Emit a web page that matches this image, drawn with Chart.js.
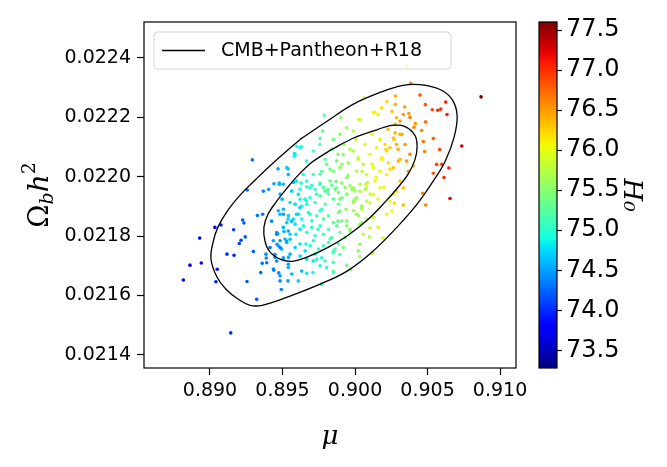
<!DOCTYPE html>
<html>
<head>
<meta charset="utf-8">
<script src="https://cdn.jsdelivr.net/npm/chart.js@4.4.1/dist/chart.umd.min.js"></script>
<style>
  html, body { margin: 0; padding: 0; background: #fff; }
</style>
</head>
<body>
<canvas id="myChart" width="667" height="467"></canvas>
<script>
// sample points: mu, Omega_b h^2, H0 (colour)
var mu = [
  0.88816, 0.88862, 0.8894, 0.88929, 0.89034, 0.89076, 0.8905, 0.89041, 0.89117, 0.89166,
  0.89163, 0.89214, 0.89202, 0.89243, 0.89225, 0.89234, 0.89143, 0.89322, 0.89255, 0.89299,
  0.8935, 0.89327, 0.89363, 0.89257, 0.89292, 0.89368, 0.89405, 0.89386, 0.89388, 0.8936,
  0.8944, 0.89474, 0.89492, 0.89469, 0.89538, 0.89441, 0.89478, 0.89467, 0.89462, 0.89483,
  0.8951, 0.89538, 0.8954, 0.89609, 0.89581, 0.89581, 0.8963, 0.8977, 0.8971, 0.89667,
  0.89788, 0.89777, 0.89903, 0.89759, 0.8985, 0.89943, 0.8997, 0.90035, 0.90122, 0.90099,
  0.90159, 0.90193, 0.90062, 0.90025, 0.90136, 0.90159, 0.90219, 0.90279, 0.90355, 0.90384,
  0.90343, 0.90371, 0.90448, 0.90485, 0.90533, 0.9057, 0.90591, 0.90625, 0.90634, 0.90869,
  0.90736, 0.90584, 0.9054, 0.90471, 0.9048, 0.9046, 0.90487, 0.90416, 0.90563, 0.90599,
  0.90647, 0.9054, 0.90614, 0.90655, 0.90467, 0.90487, 0.90402, 0.90333, 0.90271,
  // centre of the cloud
  0.89478, 0.89506, 0.89575, 0.89628, 0.89667, 0.89702, 0.89725, 0.89759, 0.89782, 0.8981,
  0.8984, 0.89863, 0.89886, 0.89909, 0.89932, 0.89966, 0.90001, 0.90035, 0.9007, 0.90086,
  0.89483, 0.89552, 0.89587, 0.89621, 0.89633, 0.89667, 0.8969, 0.89725, 0.89759, 0.89771,
  0.89794, 0.89817, 0.89851, 0.89886, 0.89909, 0.89943, 0.89989, 0.90012, 0.90047, 0.90081,
  0.89471, 0.89506, 0.89541, 0.89575, 0.8961, 0.89633, 0.89644, 0.89679, 0.89702, 0.89736,
  0.89759, 0.89782, 0.89817, 0.89851, 0.89886, 0.89909, 0.89943, 0.89989, 0.90024, 0.90047,
  0.90081, 0.8946, 0.89506, 0.89529, 0.89552, 0.89587, 0.89621, 0.89667, 0.89702, 0.89725,
  0.89759, 0.89782, 0.89817, 0.8984, 0.89874, 0.89897, 0.89932, 0.89966, 0.89437, 0.89471,
  0.89494, 0.89529, 0.89552, 0.89587, 0.89621, 0.89656, 0.8969, 0.89713, 0.89748, 0.89782,
  0.89817, 0.89851, 0.89886, 0.8992, 0.89449, 0.89506, 0.89541, 0.89621, 0.89667, 0.89736,
  0.89759, 0.89851, 0.89437, 0.89483, 0.89564, 0.89851,
  // upper right of the inner contour
  0.89919, 0.89954, 0.89988, 0.90023, 0.89896, 0.89851, 0.89873, 0.89804, 0.8977, 0.89827,
  0.89942, 0.90011, 0.90057, 0.9008, 0.90126, 0.90103, 0.90149, 0.90184, 0.90218, 0.90207,
  0.90241, 0.90264, 0.90287, 0.90276, 0.9031, 0.9023, 0.90264, 0.90299, 0.90172, 0.90218,
  0.90138, 0.9008, 0.90034, 0.89988, 0.90172, 0.90126, 0.90103, 0.90046, 0.89988, 0.89942,
  0.90011, 0.89942, 0.89896, 0.89873, 0.89793, 0.89758, 0.89735, 0.89689, 0.89666, 0.89712,
  0.89643, 0.89597, 0.89563, 0.89609, 0.89666,
  // between the contours
  0.90034, 0.90126, 0.90184, 0.90278, 0.90287, 0.9031, 0.90333, 0.89942, 0.89896, 0.89851,
  0.89988, 0.89758, 0.89712, 0.8962, 0.89586, 0.89666, 0.89529,
  0.90356, 0.90379, 0.90368, 0.90333, 0.90287, 0.9031, 0.90264, 0.90241, 0.90253, 0.90218,
  0.90126, 0.90103, 0.90057, 0.90034, 0.90023,
  0.8946, 0.89483, 0.89529, 0.89506, 0.89448, 0.8954, 0.89563, 0.89597, 0.89506, 0.8962,
  0.89425, 0.89414, 0.89391, 0.8946, 0.8954, 0.89632, 0.89712, 0.8977, 0.8985, 0.89896,
  0.89804, 0.89483, 0.89598, 0.8954, 0.89575,
  // dense green / yellow core
  0.89828, 0.89869, 0.8991, 0.89952, 0.89979, 0.90021, 0.90048, 0.90076, 0.90117, 0.90145,
  0.90186, 0.90214, 0.90241, 0.90269, 0.90297, 0.90324, 0.90345, 0.9031, 0.90276, 0.90228,
  0.90172, 0.90117, 0.90069, 0.90007, 0.89966, 0.89924, 0.89883, 0.89841, 0.89793, 0.89759,
  0.89814, 0.89897, 0.89938, 0.9, 0.90048, 0.90103, 0.90159, 0.902, 0.90034, 0.89966,
  0.89883, 0.89828, 0.89745, 0.8969, 0.89655, 0.89621, 0.89586, 0.89538, 0.89593, 0.89662,
  0.89724, 0.89793, 0.89862, 0.89497, 0.89483, 0.89517, 0.89552, 0.90379, 0.90407, 0.90255
];
var omegaBh2 = [
  0.021652, 0.021702, 0.021709, 0.021793, 0.021829, 0.021837, 0.021688, 0.021646, 0.021739, 0.021735,
  0.021821, 0.021786, 0.021775, 0.021797, 0.021854, 0.021844, 0.021474, 0.021587, 0.021647, 0.021748,
  0.021677, 0.021869, 0.021873, 0.021955, 0.022056, 0.021951, 0.021957, 0.021739, 0.021726, 0.021708,
  0.021685, 0.021676, 0.02162, 0.022026, 0.022026, 0.021976, 0.021974, 0.021808, 0.021772, 0.021784,
  0.021815, 0.021649, 0.021694, 0.021649, 0.022078, 0.022067, 0.0221, 0.021638, 0.021677, 0.021675,
  0.022206, 0.022153, 0.022198, 0.022129, 0.021681, 0.021702, 0.021687, 0.021731, 0.021741, 0.021797,
  0.021829, 0.021793, 0.022265, 0.022192, 0.022216, 0.022209, 0.022252, 0.022271, 0.022372, 0.022314,
  0.022234, 0.022212, 0.022274, 0.022242, 0.022225, 0.022223, 0.022227, 0.022251, 0.022209, 0.022268,
  0.022103, 0.022091, 0.022128, 0.022118, 0.022084, 0.022155, 0.022184, 0.022178, 0.022041, 0.022041,
  0.022029, 0.022011, 0.021997, 0.021926, 0.021944, 0.021904, 0.022036, 0.021904, 0.02191,
  0.021978, 0.021974, 0.021982, 0.021978, 0.021966, 0.021971, 0.021957, 0.021978, 0.021963, 0.021952,
  0.021971, 0.021957, 0.021946, 0.021978, 0.021963, 0.021969, 0.021952, 0.021974, 0.021957, 0.02198,
  0.021941, 0.021913, 0.021907, 0.021924, 0.021901, 0.021907, 0.021929, 0.021913, 0.021935, 0.02189,
  0.021907, 0.021941, 0.021924, 0.021907, 0.021929, 0.021941, 0.021913, 0.021929, 0.021901, 0.021918,
  0.021885, 0.02189, 0.021868, 0.021857, 0.021873, 0.021857, 0.021834, 0.021879, 0.021851, 0.021868,
  0.021885, 0.021857, 0.021868, 0.021845, 0.021879, 0.021851, 0.021834, 0.021885, 0.021868, 0.021845,
  0.021857, 0.021812, 0.021829, 0.021845, 0.021806, 0.02184, 0.021823, 0.021812, 0.021829, 0.021801,
  0.021834, 0.021806, 0.021823, 0.021795, 0.021834, 0.021812, 0.021795, 0.021823, 0.021784, 0.021767,
  0.021756, 0.021778, 0.021789, 0.021761, 0.021773, 0.02175, 0.021767, 0.021784, 0.021756, 0.021767,
  0.021778, 0.02175, 0.021773, 0.021761, 0.021728, 0.021722, 0.021728, 0.021733, 0.021722, 0.021722,
  0.0217, 0.021711, 0.021689, 0.021666, 0.021672, 0.021677,
  0.022074, 0.022046, 0.022086, 0.022063, 0.02203, 0.022018, 0.022052, 0.022041, 0.022018, 0.021985,
  0.021996, 0.022018, 0.022041, 0.022007, 0.02203, 0.022074, 0.022097, 0.022063, 0.022086, 0.022108,
  0.022097, 0.02213, 0.022108, 0.022147, 0.022142, 0.022046, 0.02203, 0.022052, 0.022018, 0.022007,
  0.021985, 0.021962, 0.021951, 0.021962, 0.021962, 0.02194, 0.021912, 0.021895, 0.021918, 0.02194,
  0.021873, 0.02185, 0.021884, 0.021962, 0.021951, 0.021974, 0.02194, 0.021962, 0.021985, 0.022007,
  0.022007, 0.021985, 0.021951, 0.02194, 0.021918,
  0.022192, 0.022215, 0.022231, 0.022243, 0.022198, 0.022187, 0.022209, 0.022164, 0.022142, 0.022125,
  0.022153, 0.022108, 0.022086, 0.022097, 0.022075, 0.022052, 0.02203,
  0.022052, 0.022075, 0.022018, 0.021962, 0.021951, 0.021985, 0.02194, 0.021918, 0.021884, 0.021873,
  0.021862, 0.021828, 0.021806, 0.021772, 0.02175,
  0.021806, 0.021761, 0.021783, 0.021727, 0.021738, 0.021817, 0.02185, 0.021873, 0.021873, 0.021895,
  0.02185, 0.021761, 0.02171, 0.021716, 0.021705, 0.021682, 0.021716, 0.021727, 0.021744, 0.021738,
  0.021694, 0.021649, 0.022102, 0.022007, 0.02198,
  0.022025, 0.021984, 0.022041, 0.022004, 0.021957, 0.022058, 0.022018, 0.021974, 0.022041, 0.021998,
  0.022058, 0.022092, 0.022025, 0.022125, 0.022092, 0.022142, 0.022108, 0.022058, 0.022176, 0.022159,
  0.022125, 0.022142, 0.022108, 0.022125, 0.022092, 0.022108, 0.022075, 0.022092, 0.022058, 0.022008,
  0.021957, 0.021924, 0.02189, 0.021924, 0.02189, 0.021941, 0.021924, 0.021964, 0.02184, 0.021816,
  0.02185, 0.02179, 0.021823, 0.021873, 0.021924, 0.021957, 0.021907, 0.021857, 0.021806, 0.021773,
  0.021739, 0.021716, 0.021756, 0.021924, 0.021873, 0.02179, 0.021739, 0.022199, 0.022166, 0.022219
];
var h0 = [
  73.6, 73.7, 73.8, 73.8, 73.9, 74.0, 73.9, 73.9, 74.0, 74.0,
  74.1, 74.1, 74.1, 74.2, 74.2, 74.2, 74.0, 74.2, 74.2, 74.2,
  74.3, 74.3, 74.3, 74.3, 74.3, 74.4, 74.5, 74.4, 74.4, 74.3,
  74.4, 74.4, 74.4, 74.5, 74.6, 74.5, 74.5, 74.5, 74.5, 74.5,
  74.6, 74.5, 74.6, 74.7, 74.9, 74.9, 74.9, 75.0, 74.9, 74.8,
  75.3, 75.3, 75.5, 75.2, 75.3, 75.4, 75.5, 75.6, 75.8, 75.7,
  75.9, 75.9, 75.9, 75.9, 76.1, 76.1, 76.2, 76.4, 76.3, 76.6,
  76.5, 76.5, 76.8, 76.8, 76.9, 77.0, 77.0, 77.1, 77.1, 77.6,
  77.3, 76.9, 76.8, 76.7, 76.6, 76.6, 76.7, 76.5, 76.9, 77.0,
  77.1, 76.8, 77.0, 77.2, 76.6, 76.6, 76.4, 76.3, 76.2,
  74.6, 74.6, 74.8, 74.9, 75.0, 75.0, 75.1, 75.2, 75.2, 75.2,
  75.3, 75.3, 75.4, 75.5, 75.5, 75.6, 75.6, 75.7, 75.7, 75.8,
  74.6, 74.8, 74.8, 74.9, 74.9, 75.0, 75.0, 75.1, 75.2, 75.1,
  75.2, 75.3, 75.3, 75.4, 75.4, 75.5, 75.6, 75.6, 75.7, 75.7,
  74.6, 74.6, 74.7, 74.8, 74.8, 74.9, 74.9, 75.0, 75.0, 75.1,
  75.1, 75.2, 75.2, 75.3, 75.4, 75.4, 75.5, 75.6, 75.6, 75.7,
  75.7, 74.5, 74.6, 74.7, 74.7, 74.8, 74.8, 74.9, 75.0, 75.0,
  75.1, 75.1, 75.2, 75.2, 75.3, 75.4, 75.4, 75.5, 74.5, 74.5,
  74.6, 74.6, 74.7, 74.7, 74.8, 74.8, 74.9, 75.0, 75.0, 75.1,
  75.2, 75.2, 75.3, 75.4, 74.5, 74.6, 74.6, 74.7, 74.8, 74.9,
  74.9, 75.1, 74.4, 74.5, 74.6, 75.1,
  75.5, 75.6, 75.7, 75.8, 75.5, 75.4, 75.4, 75.3, 75.2, 75.3,
  75.5, 75.7, 75.8, 75.9, 76.0, 76.0, 76.1, 76.1, 76.2, 76.2,
  76.3, 76.3, 76.4, 76.4, 76.4, 76.2, 76.3, 76.4, 76.0, 76.1,
  76.0, 75.9, 75.7, 75.6, 76.0, 75.9, 75.8, 75.7, 75.6, 75.5,
  75.6, 75.5, 75.4, 75.4, 75.2, 75.1, 75.1, 75.0, 74.9, 75.1,
  74.9, 74.8, 74.7, 74.8, 74.9,
  75.9, 76.1, 76.2, 76.4, 76.4, 76.5, 76.5, 75.6, 75.5, 75.4,
  75.7, 75.2, 75.1, 74.9, 74.8, 74.9, 74.7,
  76.5, 76.6, 76.5, 76.3, 76.2, 76.3, 76.1, 76.0, 76.0, 75.9,
  75.8, 75.8, 75.7, 75.6, 75.5,
  74.4, 74.4, 74.5, 74.5, 74.4, 74.5, 74.6, 74.7, 74.5, 74.7,
  74.4, 74.3, 74.3, 74.4, 74.5, 74.6, 74.8, 74.9, 75.1, 75.2,
  75.0, 74.4, 74.9, 74.6, 74.7,
  75.4, 75.4, 75.6, 75.6, 75.6, 75.8, 75.8, 75.8, 76.0, 76.0,
  76.1, 76.2, 76.2, 76.3, 76.4, 76.4, 76.5, 76.3, 76.4, 76.3,
  76.1, 76.0, 75.9, 75.8, 75.7, 75.6, 75.5, 75.4, 75.3, 75.2,
  75.3, 75.4, 75.5, 75.6, 75.7, 75.9, 76.0, 76.1, 75.6, 75.5,
  75.3, 75.2, 75.1, 75.0, 74.9, 74.9, 74.8, 74.7, 74.8, 74.9,
  75.0, 75.1, 75.2, 74.6, 74.6, 74.6, 74.6, 76.6, 76.6, 76.3
];

// confidence contours (closed paths)
var outerMu = [0.89621, 0.89807, 0.89986, 0.90172, 0.90331, 0.90448, 0.90586, 0.90669, 0.90704, 0.90683,
  0.90621, 0.90538, 0.90428, 0.9029, 0.90124, 0.89945, 0.89759, 0.89552, 0.89359, 0.89276,
  0.89193, 0.8911, 0.89048, 0.89007, 0.89021, 0.89055, 0.89124, 0.89214, 0.89317, 0.89441,
  0.89621];
var outerOmega = [0.022125, 0.022186, 0.022243, 0.022283, 0.022307, 0.022309, 0.022293, 0.02226, 0.022206, 0.022132,
  0.022051, 0.021984, 0.021907, 0.02183, 0.021749, 0.021682, 0.021638, 0.021598, 0.021567, 0.021567,
  0.021588, 0.021621, 0.021662, 0.021722, 0.021779, 0.02183, 0.021887, 0.021941, 0.021991, 0.022048,
  0.022125];
var innerMu = [0.89828, 0.89986, 0.90159, 0.90255, 0.90345, 0.90414, 0.90428, 0.90414, 0.90366, 0.90297,
  0.90207, 0.90083, 0.89945, 0.89807, 0.89669, 0.89566, 0.89483, 0.89414, 0.89379, 0.89372,
  0.894, 0.89455, 0.89524, 0.89607, 0.89703, 0.89828];
var innerOmega = [0.022088, 0.022129, 0.022159, 0.022172, 0.022168, 0.022138, 0.022100, 0.022058, 0.022008, 0.021964,
  0.021914, 0.021853, 0.0218, 0.02176, 0.021729, 0.021715, 0.021722, 0.021746, 0.021783, 0.02183,
  0.021873, 0.021914, 0.021957, 0.022004, 0.022048, 0.022088];

var xTicks = [0.890, 0.895, 0.900, 0.905, 0.910];
var yTicks = [0.0214, 0.0216, 0.0218, 0.0220, 0.0222, 0.0224];
var cbTicks = [73.5, 74.0, 74.5, 75.0, 75.5, 76.0, 76.5, 77.0, 77.5];
var legendLabel = 'CMB+Pantheon+R18';

var H0_MIN = 73.28, H0_MAX = 77.6;

// matplotlib "jet"
function jet(t) {
  function seg(pts) {
    for (var i = 1; i < pts.length; i++) {
      if (t <= pts[i][0]) {
        var a = pts[i - 1], b = pts[i];
        return a[1] + (b[1] - a[1]) * (t - a[0]) / (b[0] - a[0]);
      }
    }
    return pts[pts.length - 1][1];
  }
  t = Math.max(0, Math.min(1, t));
  var r = seg([[0, 0], [0.35, 0], [0.66, 1], [0.89, 1], [1, 0.5]]);
  var g = seg([[0, 0], [0.125, 0], [0.375, 1], [0.64, 1], [0.91, 0], [1, 0]]);
  var b = seg([[0, 0.5], [0.11, 1], [0.34, 1], [0.65, 0], [1, 0]]);
  return 'rgb(' + Math.round(r * 255) + ',' + Math.round(g * 255) + ',' + Math.round(b * 255) + ')';
}
function h0Color(v) { return jet((v - H0_MIN) / (H0_MAX - H0_MIN)); }

var points = mu.map(function (m, i) { return {x: m, y: omegaBh2[i]}; });
var pointColors = h0.map(h0Color);
var outerPts = outerMu.map(function (m, i) { return {x: m, y: outerOmega[i]}; });
var innerPts = innerMu.map(function (m, i) { return {x: m, y: innerOmega[i]}; });

Chart.defaults.color = '#000';
Chart.defaults.font.family = 'DejaVu Sans';

var framePlugin = {
  id: 'frame',
  afterDatasetsDraw: function (chart) {
    var ctx = chart.ctx, a = chart.chartArea;
    ctx.save();
    ctx.strokeStyle = '#000';
    ctx.lineWidth = 1.2;
    ctx.strokeRect(a.left, a.top, a.right - a.left, a.bottom - a.top);
    ctx.restore();
  }
};

var colorbarPlugin = {
  id: 'colorbar',
  afterDraw: function (chart) {
    var ctx = chart.ctx, cb = chart.scales.cb;
    var x1 = cb.left, x0 = x1 - 18, top = cb.top, bottom = cb.bottom;
    var grad = ctx.createLinearGradient(0, bottom, 0, top);
    for (var i = 0; i <= 40; i++) grad.addColorStop(i / 40, jet(i / 40));
    ctx.save();
    ctx.fillStyle = grad;
    ctx.fillRect(x0, top, x1 - x0, bottom - top);
    ctx.strokeStyle = '#000';
    ctx.lineWidth = 1.2;
    ctx.strokeRect(x0, top, x1 - x0, bottom - top);
    ctx.restore();
  }
};

var legendPlugin = {
  id: 'boxLegend',
  afterDraw: function (chart) {
    var ctx = chart.ctx, a = chart.chartArea;
    var x = a.left + 10, y = a.top + 10, w = 297, h = 37, r = 4;
    ctx.save();
    ctx.beginPath();
    ctx.moveTo(x + r, y);
    ctx.arcTo(x + w, y, x + w, y + h, r);
    ctx.arcTo(x + w, y + h, x, y + h, r);
    ctx.arcTo(x, y + h, x, y, r);
    ctx.arcTo(x, y, x + w, y, r);
    ctx.closePath();
    ctx.fillStyle = 'rgba(255,255,255,0.8)';
    ctx.fill();
    ctx.strokeStyle = 'rgba(204,204,204,0.8)';
    ctx.lineWidth = 1;
    ctx.stroke();
    ctx.beginPath();
    ctx.moveTo(x + 8, y + h / 2);
    ctx.lineTo(x + 51, y + h / 2);
    ctx.strokeStyle = '#000';
    ctx.lineWidth = 1.3;
    ctx.stroke();
    ctx.fillStyle = '#000';
    ctx.font = '19px "DejaVu Sans"';
    ctx.textBaseline = 'middle';
    ctx.fillText(legendLabel, x + 67, y + h / 2 + 1);
    ctx.restore();
  }
};

// y label with sub/superscript: Omega_b h^2
var yTitlePlugin = {
  id: 'yTitle',
  afterDraw: function (chart) {
    var ctx = chart.ctx, a = chart.chartArea;
    var parts = [
      {t: '\u03A9', f: '28px "DejaVu Serif"', dy: 0},
      {t: 'b', f: 'italic 19px "DejaVu Serif"', dy: 5},
      {t: 'h', f: 'italic 28px "DejaVu Serif"', dy: 0},
      {t: '2', f: '19px "DejaVu Serif"', dy: -13}
    ];
    ctx.save();
    var total = 0;
    parts.forEach(function (p) { ctx.font = p.f; p.w = ctx.measureText(p.t).width; total += p.w; });
    ctx.translate(38, (a.top + a.bottom) / 2);
    ctx.rotate(-Math.PI / 2);
    ctx.fillStyle = '#000';
    ctx.textBaseline = 'alphabetic';
    var cx = -total / 2;
    parts.forEach(function (p) { ctx.font = p.f; ctx.fillText(p.t, cx, 10 + p.dy); cx += p.w; });
    ctx.restore();
  }
};

var tickGrid = {display: true, drawOnChartArea: false, drawTicks: true, tickLength: 7, tickColor: '#000', tickWidth: 1.2};

new Chart(document.getElementById('myChart').getContext('2d'), {
  type: 'scatter',
  data: {
    datasets: [{
      label: legendLabel,
      data: outerPts,
      showLine: true,
      borderColor: '#000',
      borderWidth: 1.3,
      pointRadius: 0,
      tension: 0.4,
      xAxisID: 'x', yAxisID: 'y'
    }, {
      label: legendLabel + ' inner',
      data: innerPts,
      showLine: true,
      borderColor: '#000',
      borderWidth: 1.3,
      pointRadius: 0,
      tension: 0.35,
      xAxisID: 'x', yAxisID: 'y'
    }, {
      label: 'samples',
      data: points,
      pointRadius: 1.8,
      pointBorderWidth: 0,
      pointBackgroundColor: pointColors,
      pointBorderColor: pointColors,
      xAxisID: 'x', yAxisID: 'y'
    }]
  },
  options: {
    responsive: false,
    animation: false,
    devicePixelRatio: 1,
    events: [],
    layout: {padding: {top: 22, left: 0, right: 0, bottom: 0}},
    plugins: {legend: {display: false}, tooltip: {enabled: false}},
    scales: {
      x: {
        type: 'linear', position: 'bottom',
        min: 0.88545, max: 0.9111,
        afterBuildTicks: function (s) { s.ticks = xTicks.map(function (v) { return {value: v}; }); },
        afterFit: function (s) { s.height = 99; },
        ticks: {font: {size: 19}, padding: 5, callback: function (v) { return v.toFixed(3); }},
        grid: tickGrid,
        border: {display: false},
        title: {display: true, text: '\u03BC', font: {family: 'DejaVu Serif', style: 'italic', size: 26}, padding: {top: 0, bottom: 14}}
      },
      y: {
        type: 'linear', position: 'left',
        min: 0.021356, max: 0.02252,
        afterBuildTicks: function (s) { s.ticks = yTicks.map(function (v) { return {value: v}; }); },
        afterFit: function (s) { s.width = 144; },
        ticks: {font: {size: 19}, padding: 6, callback: function (v) { return v.toFixed(4); }},
        grid: tickGrid,
        border: {display: false}
      },
      gap: {
        type: 'linear', position: 'right', weight: 0,
        afterFit: function (s) { s.width = 41; },
        ticks: {display: false},
        grid: {display: false},
        border: {display: false}
      },
      cb: {
        type: 'linear', position: 'right', weight: 1,
        min: H0_MIN, max: H0_MAX,
        afterBuildTicks: function (s) { s.ticks = cbTicks.map(function (v) { return {value: v}; }); },
        afterFit: function (s) { s.width = 110; },
        ticks: {font: {size: 24}, padding: 4, callback: function (v) { return v.toFixed(1); }},
        grid: {display: true, drawOnChartArea: false, drawTicks: true, tickLength: 5, tickColor: '#000', tickWidth: 1.2},
        border: {display: false},
        title: {display: true, text: 'H\u2080', font: {family: 'DejaVu Serif', style: 'italic', size: 26}, padding: {top: 21, bottom: 0}}
      }
    }
  },
  plugins: [framePlugin, colorbarPlugin, legendPlugin, yTitlePlugin]
});
</script>
</body>
</html>
